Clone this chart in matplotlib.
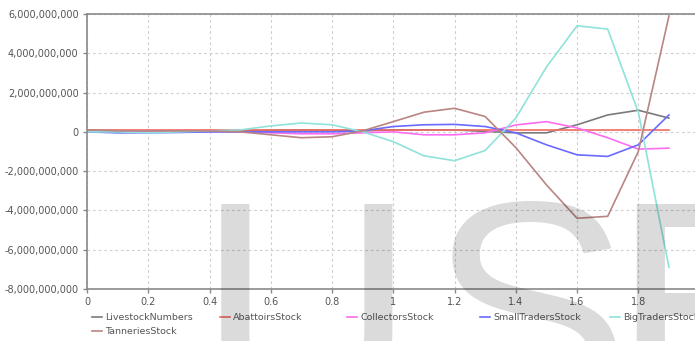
import matplotlib.pyplot as plt
from matplotlib.ticker import FuncFormatter

# time axis
t = [0.0, 0.1, 0.2, 0.3, 0.4, 0.5, 0.6, 0.7, 0.8, 0.9,
     1.0, 1.1, 1.2, 1.3, 1.4, 1.5, 1.6, 1.7, 1.8, 1.9]

# values in billions
livestock = [0.05, 0.02, 0.0, 0.0, 0.02, 0.05, 0.08, 0.1, 0.08, 0.05,
             0.1, 0.1, 0.1, 0.02, -0.05, -0.05, 0.36, 0.86, 1.1, 0.7]
abattoirs = [0.1, 0.1, 0.1, 0.1, 0.1, 0.1, 0.1, 0.1, 0.1, 0.1,
             0.1, 0.1, 0.1, 0.1, 0.1, 0.1, 0.1, 0.1, 0.1, 0.1]
collectors = [0.0, 0.0, 0.02, 0.02, 0.02, 0.0, -0.05, -0.1, -0.1, -0.05,
              0.0, -0.15, -0.15, -0.05, 0.35, 0.52, 0.2, -0.3, -0.88, -0.83]
small_traders = [0.0, -0.05, -0.05, -0.03, 0.0, 0.0, 0.0, 0.0, 0.0, 0.05,
                 0.27, 0.36, 0.38, 0.27, -0.05, -0.66, -1.17, -1.25, -0.66, 0.86]
big_traders = [0.0, 0.0, -0.05, 0.0, 0.05, 0.1, 0.3, 0.45, 0.36, 0.0,
               -0.5, -1.22, -1.47, -0.95, 0.7, 3.3, 5.4, 5.23, 1.0, -6.9]
tanneries = [0.1, 0.05, 0.05, 0.05, 0.05, 0.0, -0.15, -0.3, -0.25, 0.05,
             0.52, 1.0, 1.2, 0.78, -0.8, -2.7, -4.4, -4.3, -1.0, 5.9]

names = ["LivestockNumbers", "AbattoirsStock", "CollectorsStock",
         "SmallTradersStock", "BigTradersStock", "TanneriesStock"]
series = [livestock, abattoirs, collectors, small_traders, big_traders, tanneries]
colors = ["#7a7a7a", "#f06a60", "#ff6cf0", "#6a6aff", "#8fe3da", "#b98582"]

xticks = [0, 0.2, 0.4, 0.6, 0.8, 1.0, 1.2, 1.4, 1.6, 1.8]
yticks = [-8e9, -6e9, -4e9, -2e9, 0, 2e9, 4e9, 6e9]

fig = plt.figure(figsize=(6.95, 3.41), dpi=100)
ax = fig.add_axes([0.1252, 0.1525, 0.8814, 0.8065])

lines = []
for vals, name, c in zip(series, names, colors):
    ln, = ax.plot(t, [v * 1e9 for v in vals], color=c, lw=1.2, label=name)
    lines.append(ln)

ax.set_xlim(0, 2.0)
ax.set_ylim(-8e9, 6e9)
ax.set_xticks(xticks)
ax.set_yticks(yticks)
ax.xaxis.set_major_formatter(FuncFormatter(lambda v, p: "%g" % v))
ax.yaxis.set_major_formatter(FuncFormatter(lambda v, p: "{:,.0f}".format(v)))
ax.tick_params(labelsize=7, colors="#8a8a8a", labelcolor="#555555",
               length=3, width=1, pad=3)
ax.grid(True, color="#cfcfcf", ls=(0, (2.5, 2.5)), lw=0.8)
ax.set_axisbelow(True)
for side in ["left", "bottom", "top"]:
    ax.spines[side].set_color("#8a8a8a")
    ax.spines[side].set_linewidth(1.2)
ax.spines["right"].set_visible(False)

# legend: one small legend per column, so the columns sit where the original has them
columns = [([0, 5], 92), ([1], 220), ([2], 347), ([3], 480), ([4], 610)]
for idx, xpx in columns:
    leg = fig.legend(handles=[lines[i] for i in idx], loc="upper left",
                     bbox_to_anchor=(xpx / 695, 1 - 313 / 341), frameon=False,
                     fontsize=6.8, handlelength=1.1, handletextpad=0.3,
                     labelspacing=0.55, borderaxespad=0, borderpad=0)
    for txt in leg.get_texts():
        txt.set_color("#555555")

# watermark over the chart
base = 1 - 411 / 341
for letter, xpx in [("U", 198), ("S", 428), ("E", 611)]:
    fig.text(xpx / 695, base, letter, fontsize=217, family="Liberation Sans",
             color="black", alpha=0.14, ha="left", va="baseline", zorder=10)

fig.savefig("out.png", dpi=100)
